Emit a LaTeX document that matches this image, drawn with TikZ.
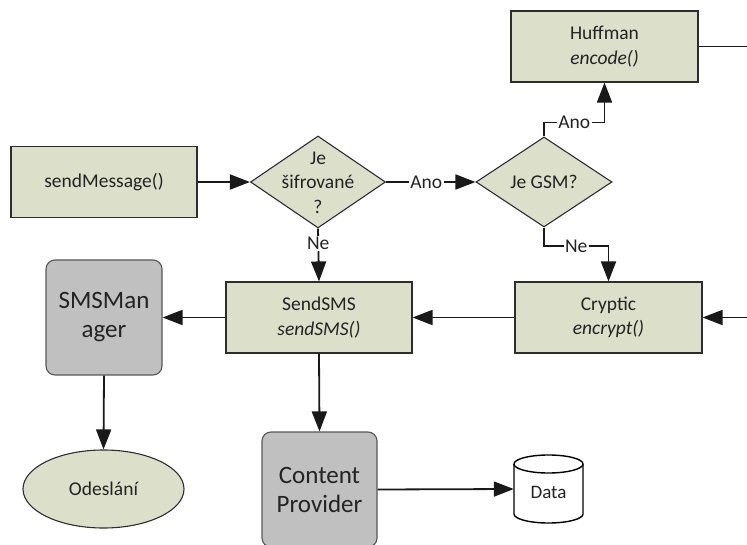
\documentclass[tikz,border=0pt]{standalone}
\usepackage{fontspec}
\setmainfont{Carlito}
\usetikzlibrary{shapes.geometric,arrows.meta}
\definecolor{boxgreen}{RGB}{220,224,203}
\definecolor{boxgray}{RGB}{192,192,192}
\definecolor{edgec}{RGB}{45,45,45}
\definecolor{txt}{RGB}{35,35,35}
\tikzset{
  x=1bp,y=1bp,
  greenbox/.style={draw=edgec,line width=1.1bp,fill=boxgreen,minimum width=186bp,minimum height=71bp,inner sep=0pt,align=center,text=txt,font=\fontsize{19.5bp}{24.5bp}\selectfont},
  graybox/.style={draw=edgec!80,line width=1.1bp,fill=boxgray,rounded corners=9bp,minimum width=116bp,minimum height=115bp,inner sep=0pt,align=center,text=txt,font=\fontsize{25bp}{29bp}\selectfont},
  decision/.style={diamond,draw=edgec,line width=1.1bp,fill=boxgreen,inner sep=0pt},
  dtext/.style={align=center,text=txt,inner sep=0pt,font=\fontsize{19.5bp}{24.5bp}\selectfont},
  arr/.style={draw=black!90,line width=1.8bp,-{Triangle[length=20bp,width=15bp]}},
  ln/.style={draw=black!90,line width=1.8bp},
  lbl/.style={fill=white,inner sep=1.5bp,text=txt,font=\fontsize{19.5bp}{22bp}\selectfont},
}
\begin{document}
\begin{tikzpicture}
\useasboundingbox (0,0) rectangle (747,-545);
% nodes
\node[greenbox] (send) at (104,-182) {sendMessage()};
\node[decision,minimum width=135bp,minimum height=92bp] (d1) at (318,-182) {};
\node[dtext] (d1t) at (318,-182.5) {Je\\šifrované\\?};
\node[decision,minimum width=136bp,minimum height=90bp] (d2) at (544,-182) {};
\node[dtext] (d2t) at (544,-182) {Je GSM?};
\node[greenbox,minimum width=187bp] (huff) at (604.5,-46.5) {Huffman\\\textit{encode()}};
\node[greenbox,minimum width=187bp] (cryp) at (608.5,-317.5) {Cryptic\\\textit{encrypt()}};
\node[greenbox,minimum width=186bp] (sms) at (319,-317.5) {SendSMS\\\textit{sendSMS()}};
\node[graybox] (mgr) at (104,-317.5) {SMSMan\\ager};
\node[ellipse,draw=edgec,line width=1.1bp,fill=boxgreen,minimum width=161bp,minimum height=78bp,inner sep=0pt,text=txt,font=\fontsize{19.5bp}{24.5bp}\selectfont] (odes) at (103.5,-489) {Odeslání};
\node[graybox,minimum width=115bp] (cp) at (319.5,-489.5) {Content\\Provider};
% data store (cylinder)
\node[minimum width=69bp,minimum height=68bp,inner sep=0pt] (data) at (548.5,-489) {};
\filldraw[fill=white,draw=black,line width=1.4bp]
  (514,-464) -- (514,-514) arc[start angle=180,end angle=360,x radius=34.5bp,y radius=9bp] -- (583,-464)
  arc[start angle=0,end angle=180,x radius=34.5bp,y radius=9bp] -- cycle;
\draw[line width=1.4bp] (514,-464) arc[start angle=180,end angle=360,x radius=34.5bp,y radius=9bp];
\node[text=txt,inner sep=0pt,font=\fontsize{19bp}{22bp}\selectfont] (datat) at (548.5,-492) {Data};
% outside coordinates
\coordinate (huffout) at (747,-46.5);
\coordinate (crypin) at (747,-317.5);
% connectors
\draw[arr] (send.east) -- (d1.west);
\draw[arr] (d1.east) -- node[lbl,pos=0.45] (ano1) {Ano} (d2.west);
\draw[arr] (d2.north) -- ++(0,14) -| node[lbl,pos=0.25] (ano2) {Ano} (huff.south);
\draw[arr] (d2.south) -- ++(0,-18.5) -| node[lbl,pos=0.25] (ne2) {Ne} (cryp.north);
\draw[arr] (d1.south) -- node[lbl,pos=0.28] (ne1) {Ne} (sms.north);
\draw[ln] (huff.east) -- (huffout);
\draw[arr] (crypin) -- (cryp.east);
\draw[arr] (cryp.west) -- (sms.east);
\draw[arr] (sms.west) -- (mgr.east);
\draw[arr] (mgr.south) -- (odes.north);
\draw[arr] (sms.south) -- (cp.north);
\draw[arr] (cp.east) -- (data.west);
\end{tikzpicture}
\end{document}
